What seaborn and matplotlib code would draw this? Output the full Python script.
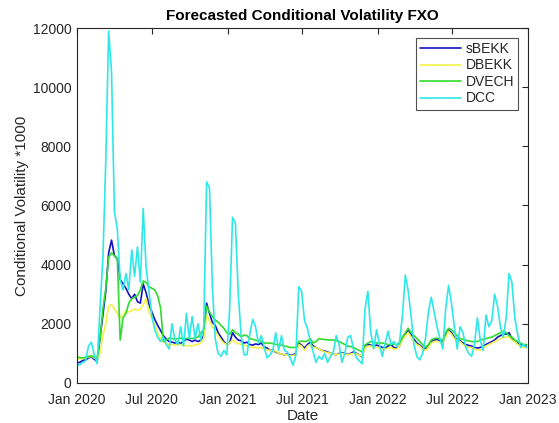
import numpy as np
import pandas as pd
import matplotlib
matplotlib.use("Agg")
import matplotlib.pyplot as plt
import matplotlib.dates as mdates
import seaborn as sns

# ---- data (weekly, starting 2020-01-01) ----
start_date = "2020-01-01"
n_weeks = 157

sbekk = [680, 700, 760, 780, 850, 880, 800, 720, 1500, 2300,
         3100, 4400, 4830, 4300, 4200, 3500, 3350, 3200, 3000, 2850,
         3000, 2750, 2700, 3350, 3050, 2650, 2400, 2150, 1950, 1780,
         1600, 1480, 1400, 1380, 1350, 1380, 1330, 1420, 1480, 1450,
         1400, 1450, 1400, 1450, 1600, 2700, 2350, 2050, 1950, 1700,
         1550, 1400, 1300, 1350, 1700, 1550, 1450, 1430, 1350, 1380,
         1300, 1280, 1320, 1300, 1350, 1220, 1180, 1100, 1120, 1050,
         1000, 980, 950, 980, 940, 950, 1000, 1350, 1280, 1180,
         1300, 1380, 1250, 1200, 1150, 1100, 1080, 1050, 1000, 980,
         950, 1000, 1020, 1000, 960, 1000, 1050, 1000, 950, 880,
         1250, 1300, 1280, 1250, 1280, 1250, 1200, 1180, 1250, 1300,
         1200, 1180, 1250, 1500, 1650, 1800, 1650, 1480, 1350, 1280,
         1200, 1150, 1250, 1400, 1450, 1480, 1420, 1400, 1600, 1800,
         1700, 1550, 1480, 1430, 1350, 1300, 1270, 1250, 1200, 1180,
         1200, 1250, 1300, 1350, 1400, 1450, 1550, 1600, 1650, 1650,
         1700, 1500, 1420, 1350, 1300, 1270, 1250]

dbekk = [820, 820, 830, 850, 880, 900, 850, 800, 1000, 1600,
         2000, 2600, 2650, 2500, 2350, 2200, 2300, 2450, 2400, 2450,
         2500, 2450, 2500, 2650, 2850, 2400, 2200, 1950, 1700, 1500,
         1400, 1320, 1280, 1300, 1280, 1300, 1300, 1280, 1250, 1270,
         1250, 1300, 1300, 1350, 1500, 2300, 2100, 1900, 1750, 1600,
         1450, 1350, 1300, 1350, 1450, 1380, 1330, 1300, 1280, 1250,
         1220, 1200, 1200, 1180, 1200, 1150, 1120, 1100, 1100, 1080,
         1000, 980, 950, 950, 920, 930, 950, 1300, 1250, 1100,
         1250, 1300, 1200, 1200, 1150, 1100, 1050, 1030, 1000, 980,
         950, 980, 1000, 980, 950, 980, 1000, 980, 950, 900,
         1200, 1250, 1250, 1200, 1200, 1180, 1150, 1150, 1180, 1200,
         1150, 1150, 1250, 1450, 1600, 1700, 1550, 1400, 1300, 1250,
         1150, 1100, 1200, 1350, 1400, 1400, 1380, 1350, 1550, 1750,
         1650, 1500, 1450, 1400, 1300, 1250, 1200, 1200, 1150, 1120,
         1100, 1180, 1250, 1300, 1350, 1400, 1450, 1500, 1550, 1550,
         1550, 1450, 1400, 1300, 1250, 1200, 1200]

dvech = [880, 860, 850, 870, 900, 920, 880, 850, 1500, 2500,
         3200, 4250, 4400, 4300, 4200, 1450, 2200, 2350, 2700, 2850,
         2900, 2950, 3150, 3450, 3400, 3250, 3200, 3150, 2950, 2550,
         1400, 1450, 1520, 1500, 1480, 1500, 1520, 1480, 1500, 1520,
         1500, 1520, 1550, 1700, 1800, 2600, 2400, 2250, 2130, 2050,
         1950, 1850, 1700, 1650, 1800, 1700, 1650, 1560, 1620, 1600,
         1500, 1480, 1450, 1420, 1400, 1350, 1350, 1350, 1330, 1300,
         1300, 1280, 1250, 1230, 1200, 1200, 1200, 1400, 1420, 1400,
         1420, 1500, 1350, 1400, 1500, 1480, 1470, 1460, 1450, 1450,
         1430, 1400, 1350, 1300, 1250, 1230, 1200, 1150, 1100, 1050,
         1280, 1350, 1400, 1380, 1350, 1350, 1350, 1330, 1300, 1300,
         1320, 1300, 1350, 1550, 1700, 1850, 1700, 1600, 1500, 1400,
         1300, 1200, 1300, 1450, 1500, 1520, 1480, 1450, 1700, 1850,
         1800, 1700, 1600, 1500, 1480, 1450, 1420, 1400, 1400, 1400,
         1450, 1480, 1500, 1530, 1550, 1600, 1650, 1700, 1750, 1700,
         1600, 1550, 1450, 1400, 1350, 1300, 1300]

dcc = [600, 620, 700, 750, 1250, 1380, 950, 650, 2550, 4200,
       7500, 11900, 10500, 5800, 5200, 3500, 3150, 3700, 3150, 4500,
       3600, 4600, 3400, 5900, 3900, 3100, 2250, 1800, 1550, 1400,
       1550, 1300, 1150, 2000, 1450, 1300, 1900, 1250, 2350, 1500,
       2250, 1500, 2000, 1450, 1900, 6800, 6600, 3300, 1500, 1000,
       900, 1100, 950, 2500, 5600, 5400, 3000, 1600, 950, 950,
       1650, 2150, 1900, 1350, 1600, 1200, 850, 950, 1100, 1700,
       1100, 1600, 1100, 1050, 850, 600, 950, 3250, 3100, 2100,
       1850, 1400, 1050, 700, 900, 800, 1000, 700, 900, 1050,
       1600, 1300, 700, 1000, 1550, 1600, 1150, 850, 750, 650,
       2500, 3100, 1700, 1150, 1800, 1300, 900, 1350, 1750, 1300,
       1400, 1250, 1400, 2300, 3650, 3100, 2250, 1300, 900, 780,
       1000, 1500, 2400, 2900, 2400, 1900, 1500, 1150, 2500, 3300,
       2700, 1900, 1150, 1900, 1700, 1200, 1000, 900, 1300, 2200,
       1450, 1100, 2300, 1900, 2100, 3000, 2600, 1900, 1550, 2200,
       3700, 3400, 2200, 1650, 1200, 1300, 1200]

series_names = ["sBEKK", "DBEKK", "DVECH", "DCC"]
series_colors = ["#1414c4", "#f2f24a", "#2fdc2f", "#2ee8e8"]

x_ticks = ["2020-01-01", "2020-07-01", "2021-01-01", "2021-07-01",
           "2022-01-01", "2022-07-01", "2023-01-01"]
y_ticks = [0, 2000, 4000, 6000, 8000, 10000, 12000]

# ---- build long table ----
dates = pd.date_range(start_date, periods=n_weeks, freq="7D")
frames = []
for name, vals in zip(series_names, [sbekk, dbekk, dvech, dcc]):
    frames.append(pd.DataFrame({"Date": dates, "Value": vals, "Model": name}))
df = pd.concat(frames, ignore_index=True)

sns.set_style("white")
plt.rcParams["font.family"] = ["Liberation Sans", "DejaVu Sans"]
plt.rcParams["xtick.direction"] = "in"
plt.rcParams["ytick.direction"] = "in"

fig = plt.figure(figsize=(5.59, 4.23), dpi=100)
ax = fig.add_axes([0.1377, 0.0946, 0.8068, 0.8392])

sns.lineplot(data=df, x="Date", y="Value", hue="Model",
             hue_order=series_names, palette=series_colors,
             linewidth=1.2, ax=ax, legend=True)

ax.set_xlim(pd.Timestamp(x_ticks[0]), pd.Timestamp(x_ticks[-1]))
ax.set_ylim(y_ticks[0], y_ticks[-1])
ax.set_xticks([pd.Timestamp(t) for t in x_ticks])
ax.xaxis.set_major_formatter(mdates.DateFormatter("%b %Y"))
ax.set_yticks(y_ticks)

edge = "#262626"
for s in ax.spines.values():
    s.set_visible(True)
    s.set_color(edge)
    s.set_linewidth(0.8)
ax.tick_params(axis="both", which="major", labelsize=10, colors=edge,
               direction="in", length=4, width=0.8, top=True, right=True)
ax.tick_params(axis="x", pad=7)
ax.tick_params(axis="y", pad=4)

ax.set_title("Forecasted Conditional Volatility FXO", fontsize=11,
             fontweight="bold", color="black", pad=6)
ax.set_xlabel("Date", fontsize=11, color=edge, labelpad=2)
ax.set_ylabel("Conditional Volatility *1000", fontsize=11, color=edge,
              labelpad=3)

leg = ax.legend(loc="upper right", fontsize=10, frameon=True,
                fancybox=False, handlelength=3.0, borderaxespad=0.7,
                borderpad=0.3, labelspacing=0.18, handletextpad=0.3)
leg.get_frame().set_edgecolor(edge)
leg.get_frame().set_linewidth(0.8)
for t in leg.get_texts():
    t.set_color(edge)

fig.savefig("out.png", dpi=100)
